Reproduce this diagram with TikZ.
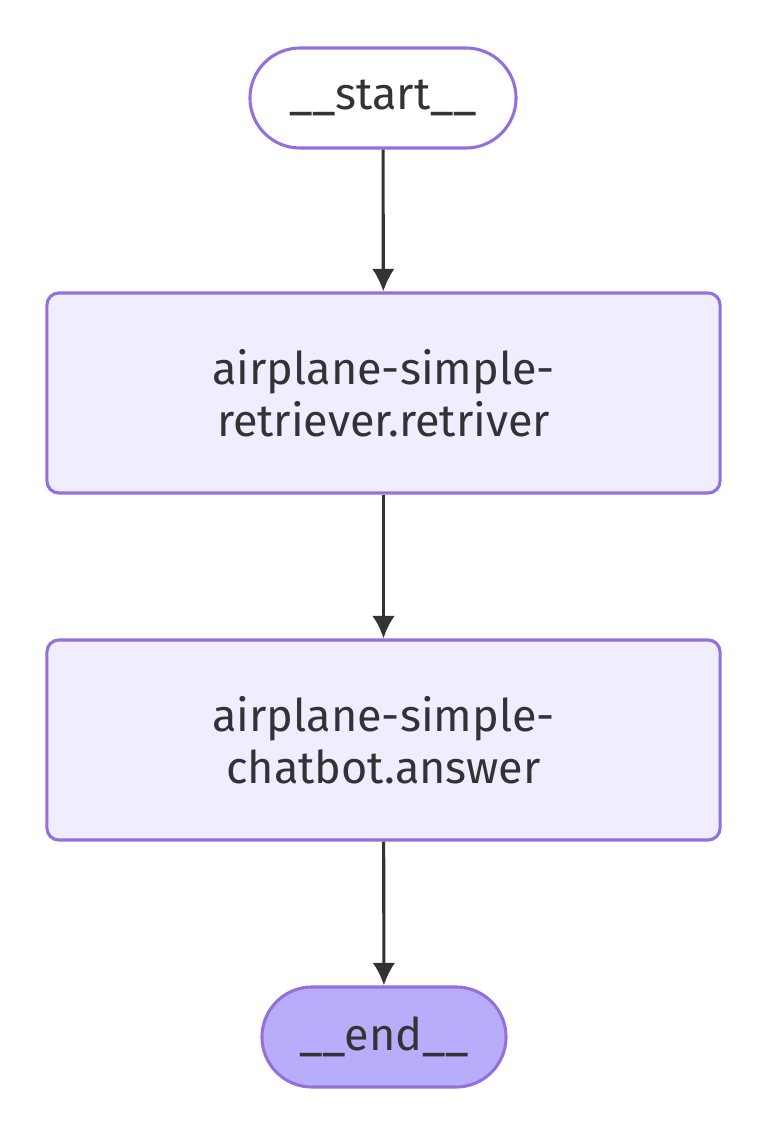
\documentclass[tikz,border=0pt]{standalone}
\usepackage{fontspec}
\setmainfont{Fira Sans}
\usepackage{xcolor}
\usetikzlibrary{arrows.meta,positioning}

\definecolor{nodeline}{HTML}{9370DB}
\definecolor{nodefill}{HTML}{EFEDFF}
\definecolor{endfill}{HTML}{B8ADFB}
\definecolor{edgegray}{HTML}{333333}

\begin{document}
\begin{tikzpicture}[x=0.025cm,y=-0.025cm,
    terminal/.style={draw=nodeline,line width=2.2pt,rounded corners=1.25cm,
      minimum height=2.5cm,inner sep=0pt,text=edgegray,
      font=\fontsize{32}{38}\selectfont},
    stepbox/.style={draw=nodeline,fill=nodefill,line width=2.2pt,rounded corners=0.3cm,
      minimum width=16.825cm,minimum height=5cm,inner sep=0pt,align=center,text=edgegray,
      font=\fontsize{32}{37}\selectfont},
    flow/.style={draw=edgegray,line width=2.2pt,-{Latex[length=16pt,width=16pt]}}]
  \useasboundingbox (0,0) rectangle (768,1143);
  \node[terminal,fill=white,minimum width=6.65cm] (start) at (383,98) {\_\_start\_\_};
  \node[stepbox] (retriever) at (383.5,393) {airplane-simple-\\retriever.retriver};
  \node[stepbox] (answer) at (383.5,740) {airplane-simple-\\chatbot.answer};
  \node[terminal,fill=endfill,minimum width=6.1cm] (end) at (384,1037) {\_\_end\_\_};
  \draw[flow] (start) -- (retriever);
  \draw[flow] (retriever) -- (answer);
  \draw[flow] (answer) -- (end);
\end{tikzpicture}
\end{document}
